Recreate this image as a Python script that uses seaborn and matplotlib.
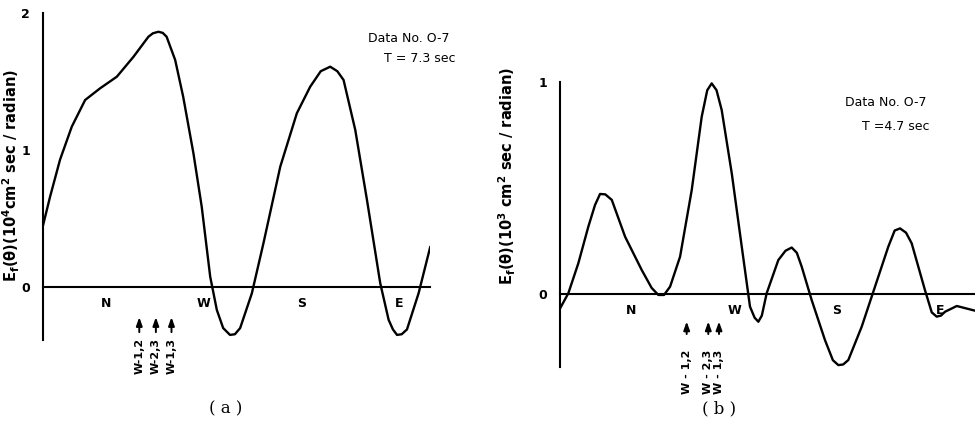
import matplotlib
matplotlib.use('Agg')
import matplotlib.pyplot as plt
import seaborn as sns
import numpy as np
import pandas as pd

# 方位刻度 (N=1, W=2, S=3, E=4)
dir_pos = [1, 2, 3, 4]
dir_labels = ['N', 'W', 'S', 'E']

# (a) T = 7.3 sec, 单位 10^4 cm^2 sec / radian
theta_a = [0.35, 0.426, 0.528, 0.648, 0.785, 0.938, 1.11, 1.28, 1.434, 1.48,
           1.536, 1.58, 1.62, 1.708, 1.79, 1.895, 1.98, 2.067, 2.135, 2.20,
           2.27, 2.32, 2.374, 2.494, 2.613, 2.785, 2.955, 3.092, 3.20, 3.297,
           3.37, 3.434, 3.554, 3.674, 3.81, 3.896, 3.94, 3.982, 4.03, 4.084,
           4.203, 4.323]
energy_a = [0.44, 0.66, 0.93, 1.17, 1.365, 1.45, 1.535, 1.68, 1.827, 1.852,
            1.863, 1.855, 1.827, 1.657, 1.389, 0.976, 0.586, 0.075, -0.168, -0.30,
            -0.35, -0.345, -0.30, -0.046, 0.32, 0.878, 1.268, 1.462, 1.575, 1.608,
            1.575, 1.511, 1.146, 0.635, 0.027, -0.24, -0.31, -0.35, -0.345, -0.31,
            -0.046, 0.294]

# (b) T = 4.7 sec, 单位 10^3 cm^2 sec / radian
theta_b = [0.311, 0.391, 0.488, 0.585, 0.65, 0.699, 0.75, 0.813, 0.942, 1.104,
           1.20, 1.265, 1.32, 1.379, 1.476, 1.589, 1.686, 1.74, 1.783, 1.83,
           1.88, 1.978, 2.075, 2.155, 2.20, 2.236, 2.27, 2.317, 2.43, 2.50,
           2.56, 2.61, 2.657, 2.754, 2.883, 2.96, 3.013, 3.06, 3.11, 3.24,
           3.369, 3.498, 3.56, 3.612, 3.67, 3.725, 3.854, 3.92, 3.968, 4.01,
           4.049, 4.163, 4.34]
energy_b = [-0.066, 0.005, 0.146, 0.318, 0.42, 0.472, 0.47, 0.444, 0.271, 0.114,
            0.03, -0.003, -0.003, 0.036, 0.177, 0.49, 0.835, 0.96, 0.992, 0.96,
            0.867, 0.569, 0.224, -0.058, -0.11, -0.129, -0.10, 0.005, 0.161, 0.205,
            0.22, 0.195, 0.13, -0.027, -0.215, -0.31, -0.333, -0.33, -0.309, -0.152,
            0.036, 0.224, 0.30, 0.31, 0.29, 0.24, 0.02, -0.085, -0.105, -0.10,
            -0.082, -0.055, -0.077]

# 波浪方向箭头
arrow_a = [1.34, 1.51, 1.67]
arrow_b = [1.54, 1.75, 1.854]
arrow_labels_a = ['W-1,2', 'W-2,3', 'W-1,3']
arrow_labels_b = ['W - 1,2', 'W - 2,3', 'W - 1,3']

W, H = 975, 422

sns.set_style('white')
plt.rcParams['font.family'] = ['DejaVu Sans']
plt.rcParams['text.color'] = 'black'
plt.rcParams['xtick.color'] = 'black'
plt.rcParams['ytick.color'] = 'black'


def px_axes(fig, x0, x1, y_top, y_bot):
    return fig.add_axes([x0 / W, 1 - y_bot / H, (x1 - x0) / W, (y_bot - y_top) / H])


def style_axes(ax, xlim, ylim, yticks):
    ax.set_xlim(*xlim)
    ax.set_ylim(*ylim)
    ax.patch.set_alpha(0)
    for s in ['top', 'right']:
        ax.spines[s].set_visible(False)
    ax.spines['bottom'].set_position(('data', 0))
    ax.spines['left'].set_linewidth(1.5)
    ax.spines['bottom'].set_linewidth(1.5)
    ax.spines['left'].set_color('black')
    ax.spines['bottom'].set_color('black')
    ax.set_xticks(dir_pos)
    ax.set_xticklabels(dir_labels, fontsize=9, fontweight='bold')
    ax.set_yticks(yticks)
    ax.set_yticklabels([str(t) for t in yticks], fontsize=9, fontweight='bold')
    ax.tick_params(axis='x', direction='in', length=5, width=1.2, pad=7,
                   colors='black', labelcolor='black')
    ax.tick_params(axis='y', direction='in', length=7, width=1.2, pad=9,
                   colors='black', labelcolor='black')
    ax.set_xlabel('')
    ax.set_ylabel('')


def draw_arrows(ax, xs, labels, tip, bot, lab_y):
    for x, lab in zip(xs, labels):
        ax.annotate('', xy=(x, tip), xytext=(x, bot),
                    arrowprops=dict(arrowstyle='-|>,head_length=0.5,head_width=0.18',
                                    color='black', lw=1.4), annotation_clip=False)
        ax.text(x, lab_y, lab, rotation=90, ha='center', va='top', fontsize=8,
                fontweight='bold', color='black', clip_on=False)


fig = plt.figure(figsize=(W / 100, H / 100), dpi=100)

# (a)
ax1 = px_axes(fig, 42.7, 430, 13, 340.4)
df_a = pd.DataFrame({'theta': theta_a, 'E': energy_a})
sns.lineplot(data=df_a, x='theta', y='E', ax=ax1, color='black', lw=1.7,
             sort=False, estimator=None)
style_axes(ax1, (0.35, 4.32), (-0.39, 2.0), [0, 1, 2])
draw_arrows(ax1, arrow_a, arrow_labels_a, -0.2, -0.35, -0.37)

# (b)
ax2 = px_axes(fig, 560, 975, 81.7, 366.6)
df_b = pd.DataFrame({'theta': theta_b, 'E': energy_b})
sns.lineplot(data=df_b, x='theta', y='E', ax=ax2, color='black', lw=1.7,
             sort=False, estimator=None)
style_axes(ax2, (0.31, 4.34), (-0.34, 1.0), [0, 1])
draw_arrows(ax2, arrow_b, arrow_labels_b, -0.115, -0.2, -0.26)

# 纵轴标题
fig.text(11 / W, 1 - 175 / H,
         r'E$_\mathregular{f}$(θ)(10$^\mathregular{4}$cm$^\mathregular{2}$ sec / radian)',
         rotation=90, ha='center', va='center', fontsize=10.5, fontweight='bold')
fig.text(507 / W, 1 - 176 / H,
         r'E$_\mathregular{f}$(θ)(10$^\mathregular{3}$ cm$^\mathregular{2}$ sec / radian)',
         rotation=90, ha='center', va='center', fontsize=10.5, fontweight='bold')

# 注释
fig.text(409 / W, 1 - 38 / H, 'Data No. O-7', ha='center', va='center', fontsize=9)
fig.text(420 / W, 1 - 59 / H, 'T = 7.3 sec', ha='center', va='center', fontsize=9)
fig.text(886 / W, 1 - 102 / H, 'Data No. O-7', ha='center', va='center', fontsize=9)
fig.text(896 / W, 1 - 127 / H, 'T =4.7 sec', ha='center', va='center', fontsize=9)

fig.text(226 / W, 1 - 409 / H, '( a )', ha='center', va='center', fontsize=12,
         family='DejaVu Serif')
fig.text(719 / W, 1 - 409 / H, '( b )', ha='center', va='center', fontsize=12,
         family='DejaVu Serif')

fig.savefig('out.png', dpi=100)
